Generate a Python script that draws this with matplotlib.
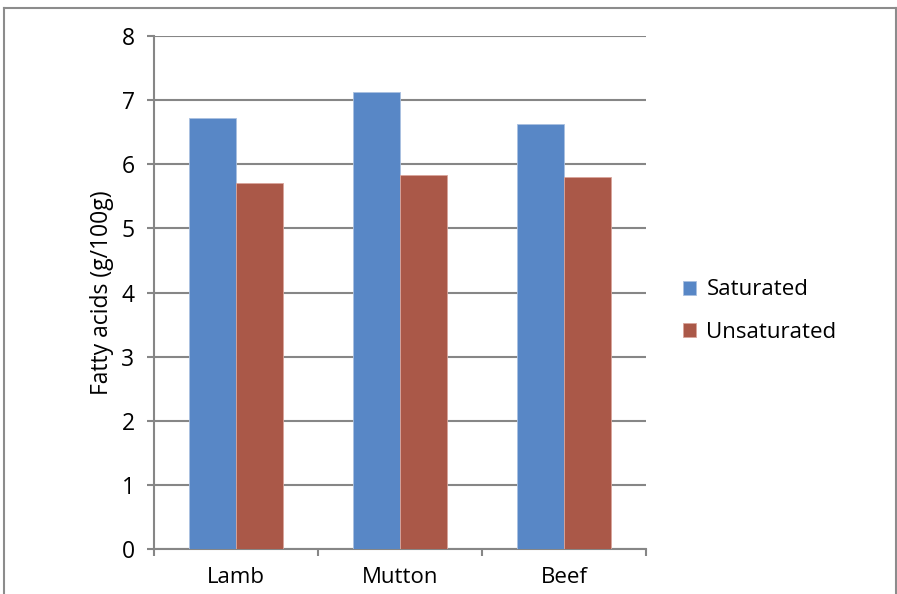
import matplotlib
matplotlib.use("Agg")
import matplotlib.pyplot as plt
import numpy as np
from matplotlib.lines import Line2D

categories = ["Lamb", "Mutton", "Beef"]
saturated = [6.72, 7.13, 6.63]
unsaturated = [5.71, 5.83, 5.80]
series_names = ["Saturated", "Unsaturated"]
yticks = [0, 1, 2, 3, 4, 5, 6, 7, 8]

plt.rcParams["font.family"] = ["Open Sans", "DejaVu Sans"]

BLUE = "#5887C6"
RED = "#AA5848"
GRID = "#868686"

fig = plt.figure(figsize=(8.97, 5.94), dpi=100)
ax = fig.add_axes([154 / 897, 1 - 549 / 594, (646 - 154) / 897, (549 - 36) / 594])

x = np.arange(len(categories))
w = 0.284
ax.bar(x - w / 2, saturated, w, color=BLUE, edgecolor="#a9c0e0", linewidth=0.6,
       label=series_names[0], zorder=3)
ax.bar(x + w / 2, unsaturated, w, color=RED, edgecolor="#d9a59b", linewidth=0.6,
       label=series_names[1], zorder=3)

ax.set_xlim(-0.5, len(categories) - 0.5)
ax.set_ylim(0, 8)
ax.set_yticks(yticks)
ax.set_yticklabels([str(t) for t in yticks], fontsize=16.5)
ax.yaxis.grid(True, color=GRID, linewidth=1.5, zorder=0)
ax.set_axisbelow(True)

# category labels sit between boundary ticks
ax.set_xticks(x)
ax.set_xticklabels(categories, fontsize=16)
ax.tick_params(axis="x", length=0, pad=13)
ax.set_xticks(np.arange(-0.5, len(categories)), minor=True)
ax.tick_params(axis="x", which="minor", length=5, width=1.5, color=GRID, direction="out")
ax.tick_params(axis="y", length=5, width=1.5, color=GRID, pad=9)

for s in ["top", "right"]:
    ax.spines[s].set_visible(False)
for s in ["left", "bottom"]:
    ax.spines[s].set_color(GRID)
    ax.spines[s].set_linewidth(1.5)

ax.set_ylabel("Fatty acids (g/100g)", fontsize=16.5, labelpad=5)

fig.legend(loc="center left", bbox_to_anchor=(663 / 897, 1 - 311 / 594), frameon=False,
           fontsize=16, handlelength=0.6, handleheight=0.6, handletextpad=0.45,
           labelspacing=0.95)

# chart area border
bc = "#8c8c8c"
l, r, t = 4 / 897, 896 / 897, 1 - 8 / 594
fig.add_artist(Line2D([l, r], [t, t], color=bc, linewidth=1.5))
fig.add_artist(Line2D([l, l], [0, t], color=bc, linewidth=1.5))
fig.add_artist(Line2D([r, r], [0, t], color=bc, linewidth=1.5))

fig.savefig("out.png", dpi=100)
